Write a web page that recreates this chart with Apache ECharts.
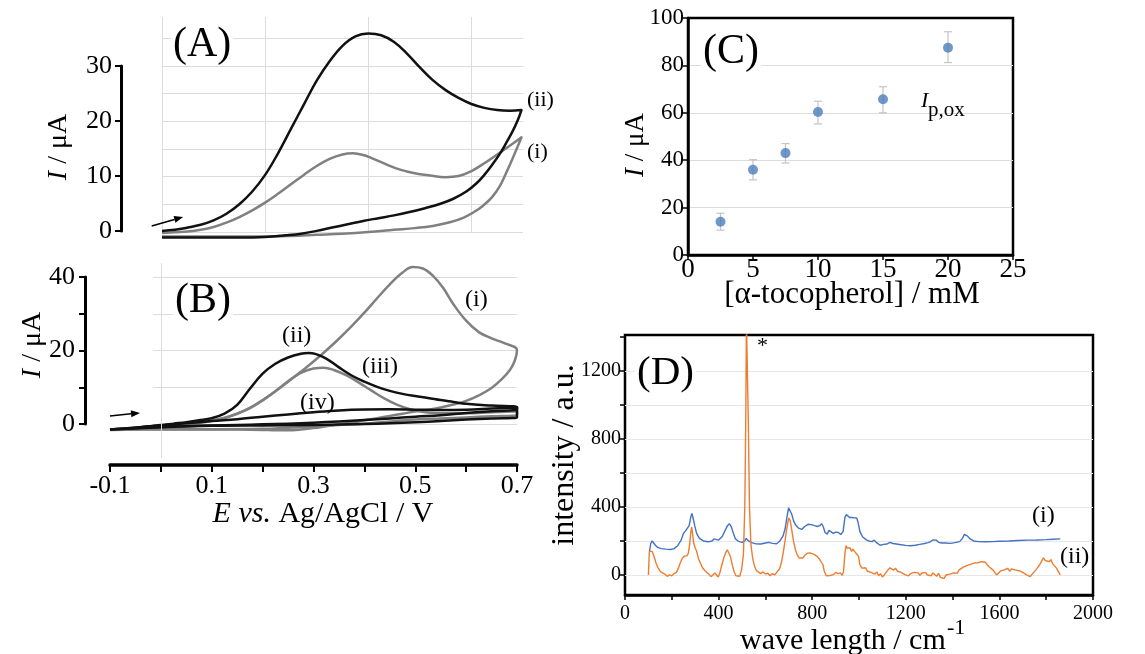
<!DOCTYPE html>
<html>
<head>
<meta charset="utf-8">
<script src="https://cdn.jsdelivr.net/npm/echarts@6/dist/echarts.min.js"></script>
<style>html,body{margin:0;padding:0;background:#fff}#c{width:1145px;height:654px}</style>
</head>
<body>
<div id="c"></div>
<script>
// ---------- DATA ----------
// Panel A: CV curves [E (V), I (uA)] (forward scan then return scan)
const cvA_i = [[0,-0.2],[0.025,-0.05],[0.05,0.1],[0.075,0.4],[0.1,0.9],[0.125,1.7],[0.15,2.7],[0.175,3.9],[0.2,5.3],[0.225,6.9],[0.25,8.6],[0.275,10.3],[0.3,11.9],[0.325,13.2],[0.35,14.0],[0.37,14.2],[0.39,13.9],[0.41,13.2],[0.435,12.2],[0.46,11.3],[0.49,10.6],[0.52,10.2],[0.55,9.9],[0.575,10.1],[0.6,11.0],[0.625,12.4],[0.65,14.0],[0.675,15.6],[0.697,17.1],[0.69,15.5],[0.68,13.3],[0.667,10.6],[0.655,8.3],[0.64,6.3],[0.622,4.7],[0.605,3.6],[0.585,2.6],[0.56,1.8],[0.525,1.1],[0.49,0.7],[0.45,0.4],[0.4,0.0],[0.35,-0.3],[0.3,-0.5],[0.25,-0.7],[0.2,-0.8],[0.1,-0.8],[0,-0.8]];
const cvA_ii = [[0,0.2],[0.025,0.4],[0.05,0.8],[0.075,1.3],[0.1,2.1],[0.125,3.3],[0.15,5.0],[0.175,7.3],[0.2,10.3],[0.225,14.2],[0.25,18.6],[0.275,23.0],[0.3,27.3],[0.325,30.8],[0.35,33.6],[0.375,35.3],[0.4,35.8],[0.425,35.5],[0.45,34.3],[0.475,32.2],[0.5,29.7],[0.525,27.4],[0.55,25.6],[0.575,24.2],[0.6,23.1],[0.625,22.4],[0.65,22.0],[0.675,21.9],[0.697,22.0],[0.69,20.2],[0.68,18.2],[0.667,16.0],[0.655,14.1],[0.64,12.1],[0.625,10.3],[0.61,8.8],[0.59,7.3],[0.565,6.0],[0.54,5.1],[0.51,4.3],[0.48,3.6],[0.45,3.0],[0.42,2.5],[0.39,2.0],[0.36,1.4],[0.33,0.8],[0.3,0.2],[0.27,-0.3],[0.24,-0.6],[0.2,-0.9],[0.15,-1.0],[0.075,-1.0],[0,-1.0]];
// Panel B: CV curves
const cvB_i = [[-0.1,-1.6],[-0.075,-1.4],[-0.05,-1.2],[-0.025,-0.9],[0,-0.5],[0.025,-0.2],[0.05,0],[0.075,0.3],[0.1,0.8],[0.125,1.6],[0.15,2.8],[0.175,4.4],[0.2,6.5],[0.225,8.9],[0.25,11.5],[0.275,14.2],[0.3,17.0],[0.325,20.0],[0.35,23.2],[0.375,26.6],[0.4,30.3],[0.425,34.2],[0.45,38.0],[0.475,41.2],[0.495,42.7],[0.515,42.3],[0.535,40.3],[0.555,37.0],[0.575,32.6],[0.6,28.1],[0.625,25.0],[0.65,23.3],[0.675,22.0],[0.7,20.1],[0.695,17.0],[0.686,14.7],[0.67,12.2],[0.65,9.8],[0.625,7.8],[0.6,6.3],[0.575,5.3],[0.55,4.5],[0.525,3.9],[0.5,3.4],[0.475,2.8],[0.45,2.2],[0.425,1.6],[0.4,1.0],[0.375,0.4],[0.35,-0.1],[0.325,-0.6],[0.3,-1.1],[0.275,-1.5],[0.25,-1.7],[0.225,-1.7],[0.2,-1.6],[0.1,-1.5],[0,-1.5],[-0.1,-1.6]];
const cvB_ii = [[-0.1,-1.5],[-0.05,-1.0],[0,-0.3],[0.025,0.1],[0.05,0.5],[0.075,1.0],[0.1,1.6],[0.125,2.8],[0.15,5.2],[0.175,9.6],[0.2,13.7],[0.225,16.4],[0.25,18.1],[0.275,19.1],[0.29,19.3],[0.305,19.0],[0.325,17.8],[0.35,15.4],[0.375,13.2],[0.4,11.5],[0.425,10.1],[0.45,9.0],[0.475,8.2],[0.5,7.6],[0.525,7.1],[0.55,6.5],[0.575,6.0],[0.6,5.5],[0.65,5.0],[0.7,4.6],[0.7,4.0],[0.65,3.5],[0.6,3.0],[0.55,2.4],[0.5,2.0],[0.45,1.5],[0.4,1.1],[0.35,0.7],[0.3,0.35],[0.25,0.1],[0.2,-0.1],[0.15,-0.25],[0.1,-0.4],[0.05,-0.6],[0,-0.8],[-0.05,-1.1],[-0.1,-1.5]];
const cvB_iii = [[-0.1,-1.5],[-0.05,-1.0],[0,-0.4],[0.05,0.2],[0.1,1.0],[0.125,1.7],[0.15,2.8],[0.175,4.3],[0.2,6.4],[0.225,8.9],[0.25,11.6],[0.275,13.9],[0.3,15.1],[0.32,15.3],[0.34,14.7],[0.365,13.2],[0.39,11.2],[0.415,9.0],[0.44,6.9],[0.465,5.2],[0.49,4.0],[0.52,3.2],[0.55,2.9],[0.6,2.9],[0.65,3.2],[0.7,3.5],[0.7,2.5],[0.65,2.1],[0.6,1.8],[0.55,1.5],[0.5,1.2],[0.45,0.7],[0.4,0.1],[0.35,-0.3],[0.3,-0.7],[0.25,-1.0],[0.2,-1.3],[0.1,-1.4],[0,-1.4],[-0.1,-1.5]];
const cvB_iv = [[-0.1,-1.5],[-0.05,-1.0],[0,-0.4],[0.05,0.2],[0.1,0.8],[0.15,1.3],[0.2,2.0],[0.25,2.6],[0.3,3.2],[0.35,3.7],[0.4,3.95],[0.45,4.0],[0.5,3.9],[0.55,3.8],[0.6,3.9],[0.65,4.2],[0.7,4.5],[0.7,1.8],[0.65,1.5],[0.6,1.2],[0.55,0.8],[0.5,0.5],[0.45,0.2],[0.4,0.0],[0.35,-0.15],[0.3,-0.25],[0.2,-0.4],[0.1,-0.5],[0,-0.9],[-0.1,-1.5]];
// Scan-direction arrows [from, to] in data units
const arrowA = [[-0.02, 1.1], [0.041, 2.7]];
const arrowB = [[-0.1, 2.2], [-0.041, 3.0]];
// Panel C
const tocoph = [2.5, 5, 7.5, 10, 15, 20];
const ipox = [14, 36, 43, 60.3, 65.7, 87.5];
const ipoxLow = [10.5, 31.7, 38.8, 55.3, 60, 81.2];
const ipoxHigh = [17.6, 40.2, 47, 64.9, 71, 94.2];
// Panel D: Raman spectra [wavenumber, intensity]
const ramanI = [[105,140],[110,185],[116,200],[122,195],[130,175],[140,162],[155,155],[175,152],[195,150],[210,155],[225,172],[240,205],[250,245],[258,258],[266,262],[274,290],[282,345],[286,362],[291,335],[298,290],[306,245],[318,215],[335,200],[355,195],[372,200],[380,212],[388,205],[400,205],[415,225],[428,262],[438,290],[446,302],[454,285],[462,250],[472,212],[485,198],[500,192],[512,200],[518,215],[522,215],[528,200],[540,190],[560,183],[580,182],[600,188],[615,192],[630,186],[648,184],[662,200],[675,228],[684,270],[692,340],[699,395],[705,400],[712,360],[720,320],[730,292],[742,275],[755,268],[768,285],[782,298],[796,296],[810,290],[822,285],[832,290],[840,302],[847,285],[855,250],[864,240],[872,262],[880,258],[890,245],[900,252],[912,250],[922,238],[932,255],[940,340],[946,355],[952,350],[960,338],[970,338],[980,336],[990,335],[996,310],[1004,255],[1015,225],[1030,208],[1045,198],[1056,196],[1065,205],[1075,190],[1090,175],[1105,180],[1120,182],[1132,192],[1138,197],[1145,185],[1160,182],[1180,178],[1200,174],[1220,172],[1240,175],[1260,180],[1280,185],[1295,190],[1305,195],[1315,206],[1322,214],[1330,205],[1340,192],[1355,188],[1370,188],[1390,186],[1410,190],[1430,196],[1442,215],[1450,238],[1456,244],[1463,230],[1475,212],[1490,200],[1510,196],[1540,195],[1570,196],[1600,198],[1640,200],[1680,203],[1720,205],[1760,206],[1800,208],[1830,210],[1860,212]];
const ramanII = [[100,0],[104,140],[110,150],[116,138],[124,110],[132,72],[140,45],[150,22],[160,12],[170,5],[180,-8],[190,0],[200,-5],[210,8],[220,15],[228,40],[236,70],[244,95],[252,110],[258,118],[264,112],[270,125],[276,175],[281,250],[285,282],[289,240],[294,185],[300,160],[306,140],[314,95],[322,70],[330,45],[340,28],[350,15],[360,2],[368,-10],[376,-2],[384,12],[390,6],[398,-12],[406,15],[414,60],[422,100],[430,130],[437,148],[444,140],[450,110],[458,62],[466,20],[474,-5],[482,-12],[490,-8],[498,30],[506,120],[512,400],[516,900],[519,1500],[523,1500],[527,900],[532,400],[538,180],[546,95],[554,50],[562,25],[570,15],[580,8],[590,18],[600,5],[610,10],[620,-5],[630,8],[640,0],[650,18],[660,35],[668,70],[676,130],[684,200],[690,260],[696,310],[700,335],[706,320],[712,270],[720,200],[728,150],[736,118],[744,100],[752,90],[760,100],[770,118],[780,128],[790,130],[798,140],[806,122],[814,118],[822,108],[830,95],[838,90],[846,60],[852,20],[860,-5],[868,5],[876,-3],[884,8],[892,2],[900,15],[910,8],[920,12],[928,-2],[934,20],[940,130],[945,172],[950,158],[956,150],[962,160],[968,138],[974,152],[980,140],[986,145],[992,120],[998,108],[1004,60],[1012,40],[1020,30],[1028,42],[1036,22],[1044,30],[1052,15],[1060,25],[1068,5],[1076,18],[1084,-5],[1092,8],[1100,-12],[1108,0],[1116,15],[1124,30],[1132,42],[1140,35],[1148,28],[1156,40],[1164,22],[1172,30],[1180,15],[1188,25],[1196,2],[1204,12],[1212,-5],[1220,8],[1228,0],[1236,15],[1244,5],[1252,12],[1260,-2],[1268,10],[1276,3],[1284,15],[1292,0],[1300,10],[1308,-5],[1316,12],[1324,4],[1332,-8],[1340,10],[1348,-15],[1356,-5],[1364,-20],[1372,0],[1380,-10],[1388,5],[1396,-5],[1404,12],[1412,18],[1420,10],[1428,30],[1436,22],[1444,45],[1452,38],[1460,55],[1468,48],[1476,62],[1484,55],[1492,70],[1500,60],[1508,72],[1516,65],[1524,78],[1532,68],[1540,75],[1548,60],[1556,48],[1564,55],[1572,30],[1580,15],[1588,0],[1596,10],[1604,22],[1612,15],[1620,30],[1628,25],[1636,38],[1644,22],[1652,35],[1660,45],[1668,30],[1676,40],[1684,25],[1692,35],[1700,15],[1708,20],[1716,0],[1724,8],[1732,-10],[1740,5],[1748,10],[1756,30],[1764,45],[1772,60],[1780,80],[1788,100],[1796,85],[1804,95],[1812,78],[1820,90],[1828,65],[1836,60],[1844,40],[1852,20],[1860,0]];

// ---------- STYLE ----------
const SERIF = 'Liberation Serif';
const GRID_C = '#dcdcdc';
const GRAY = '#808080';
const BLACK = '#111111';

function T(x, y, text, size, o) {
  o = o || {};
  return {
    type: 'text', x: x, y: y, rotation: o.rot || 0, z: 50,
    style: Object.assign({
      text: text, fontSize: size, fontFamily: SERIF, fill: '#000',
      textAlign: o.align || 'left', textVerticalAlign: o.valign || 'middle',
      align: o.align || 'left', verticalAlign: o.valign || 'middle'
    }, o.style || {})
  };
}
function R(size) {
  return { i: { fontStyle: 'italic', fontSize: size, fontFamily: SERIF, color: '#000' },
           n: { fontSize: size, fontFamily: SERIF, color: '#000' } };
}
const hid = { show: false };
function cvSeries(data, color, xi, extra) {
  return Object.assign({ type: 'line', data: data, xAxisIndex: xi, yAxisIndex: xi, smooth: 0.4,
    showSymbol: false, symbol: 'none', clip: false, lineStyle: { color: color, width: 2.5, join: 'round' }, itemStyle: { color: color }, silent: true }, extra || {});
}

const chart = echarts.init(document.getElementById('c'), null, { renderer: 'canvas' });
const option = {
  animation: false,
  backgroundColor: '#fff',
  textStyle: { fontFamily: SERIF, color: '#000' },
  grid: [
    { left: 162, top: 17, width: 361, height: 215, outerBoundsMode: 'none' },   // 0 A data
    { left: 121, top: 66, width: 10, height: 165, outerBoundsMode: 'none' },    // 1 A y axis
    { left: 110, top: 263, width: 407, height: 195, outerBoundsMode: 'none' },  // 2 B data
    { left: 153, top: 277, width: 364, height: 147, outerBoundsMode: 'none' },  // 3 B gridlines
    { left: 85, top: 277, width: 10, height: 147, outerBoundsMode: 'none' },    // 4 B y axis
    { left: 110, top: 440, width: 407, height: 25, outerBoundsMode: 'none' },   // 5 shared x axis
    { left: 688, top: 18, width: 325, height: 237, show: true, borderColor: '#000', borderWidth: 2.5, outerBoundsMode: 'none' }, // 6 C
    { left: 625, top: 335, width: 468, height: 260, show: true, borderColor: '#000', borderWidth: 2.5, outerBoundsMode: 'none' }, // 7 D data
    { left: 625, top: 337, width: 468, height: 238, outerBoundsMode: 'none' }   // 8 D y axis
  ],
  xAxis: [
    { gridIndex: 0, type: 'value', min: 0, max: 0.7, interval: 0.2, axisLine: hid, axisTick: hid, axisLabel: hid,
      splitLine: { show: true, showMaxLine: false, lineStyle: { color: GRID_C, width: 1 } } },
    { gridIndex: 1, type: 'value', min: 0, max: 1, show: false },
    { gridIndex: 2, type: 'value', min: -0.1, max: 0.7, show: false },
    { gridIndex: 3, type: 'value', min: 0, max: 1, show: false },
    { gridIndex: 4, type: 'value', min: 0, max: 1, show: false },
    { gridIndex: 5, type: 'value', min: -0.1, max: 0.7, interval: 0.1, position: 'bottom',
      axisLine: { show: true, onZero: false, lineStyle: { color: '#000', width: 3.5 } },
      axisTick: { show: true, length: 7, lineStyle: { color: '#000', width: 2 } },
      axisLabel: { fontSize: 26, fontFamily: SERIF, color: '#000', margin: 8,
        formatter: function (v) { const k = Math.round(v * 10); return (k % 2 !== 0) ? (k / 10).toFixed(1) : ''; } },
      splitLine: hid },
    { gridIndex: 6, type: 'value', min: 0, max: 25, interval: 5,
      axisLine: { show: true, onZero: false, lineStyle: { color: '#000', width: 2.5 } },
      axisTick: { show: true, length: 5, lineStyle: { color: '#000', width: 1.5 } },
      axisLabel: { fontSize: 27, fontFamily: SERIF, color: '#000', margin: 1 },
      splitLine: hid },
    { gridIndex: 7, type: 'value', min: 0, max: 2000, interval: 200,
      axisLine: { show: true, onZero: false, lineStyle: { color: '#000', width: 2.5 } },
      axisTick: { show: true, length: 5, lineStyle: { color: '#000', width: 1.5 } },
      axisLabel: { fontSize: 20, fontFamily: SERIF, color: '#000', margin: 9,
        formatter: function (v) { return (Math.round(v) % 400 === 0) ? String(Math.round(v)) : ''; } },
      splitLine: hid },
    { gridIndex: 8, type: 'value', min: 0, max: 2000, show: false }
  ],
  yAxis: [
    { gridIndex: 0, type: 'value', min: 0, max: 38.8, interval: 5, axisLine: hid, axisTick: hid, axisLabel: hid,
      splitLine: { show: true, showMaxLine: false, lineStyle: { color: GRID_C, width: 1 } } },
    { gridIndex: 1, type: 'value', min: 0, max: 30, interval: 10,
      axisLine: { show: true, onZero: false, lineStyle: { color: '#000', width: 3 } },
      axisTick: { show: true, length: 6, lineStyle: { color: '#000', width: 2 } },
      axisLabel: { fontSize: 26, fontFamily: SERIF, color: '#000', margin: 9 },
      splitLine: hid },
    { gridIndex: 2, type: 'value', min: -9.25, max: 43.8, show: false },
    { gridIndex: 3, type: 'value', min: 0, max: 40, interval: 10, axisLine: hid, axisTick: hid, axisLabel: hid,
      splitLine: { show: true, lineStyle: { color: GRID_C, width: 1 } } },
    { gridIndex: 4, type: 'value', min: 0, max: 40, interval: 10,
      axisLine: { show: true, onZero: false, lineStyle: { color: '#000', width: 3 } },
      axisTick: { show: true, length: 6, lineStyle: { color: '#000', width: 2 } },
      axisLabel: { fontSize: 26, fontFamily: SERIF, color: '#000', margin: 10,
        formatter: function (v) { return (Math.round(v) % 20 === 0) ? String(Math.round(v)) : ''; } },
      splitLine: hid },
    { gridIndex: 5, type: 'value', min: 0, max: 1, show: false },
    { gridIndex: 6, type: 'value', min: 0, max: 100, interval: 10,
      axisLine: { show: true, onZero: false, lineStyle: { color: '#000', width: 2.5 } },
      axisTick: { show: true, length: 5, lineStyle: { color: '#000', width: 1.5 }, customValues: [0, 20, 40, 60, 80, 100] },
      axisLabel: { fontSize: 23, fontFamily: SERIF, color: '#000', margin: 4,
        formatter: function (v) { return (Math.round(v) % 20 === 0) ? String(Math.round(v)) : ''; } },
      splitLine: { show: true, showMinLine: false, showMaxLine: false, lineStyle: { color: GRID_C, width: 1 } } },
    { gridIndex: 7, type: 'value', min: -118, max: 1412, show: false },
    { gridIndex: 8, type: 'value', min: 0, max: 1400, interval: 200,
      axisLine: hid,
      axisTick: { show: true, length: 5, lineStyle: { color: '#000', width: 1.5 } },
      axisLabel: { fontSize: 20, fontFamily: SERIF, color: '#000', margin: 4,
        formatter: function (v) { return (Math.round(v) % 400 === 0 && v < 1400) ? String(Math.round(v)) : ''; } },
      splitLine: { show: true, showMinLine: true, showMaxLine: false, lineStyle: { color: '#e6e6e6', width: 1 } } }
  ],
  series: [
    // Panel A
    cvSeries(cvA_i, GRAY, 0),
    cvSeries(cvA_ii, BLACK, 0),
    // Panel B
    cvSeries(cvB_i, GRAY, 2, {
      markLine: { silent: true, symbol: 'none', label: { show: false },
        lineStyle: { color: GRID_C, width: 1, type: 'solid' }, data: [{ xAxis: 0 }] }
    }),
    cvSeries(cvB_iii, GRAY, 2),
    cvSeries(cvB_iv, BLACK, 2),
    cvSeries(cvB_ii, BLACK, 2),
    // Panel C: error bars + points
    {
      type: 'custom', xAxisIndex: 6, yAxisIndex: 6, silent: true, z: 3,
      data: tocoph.map(function (x, i) { return [x, ipoxLow[i], ipoxHigh[i]]; }),
      encode: { x: 0, y: [1, 2] },
      renderItem: function (params, api) {
        const x = api.value(0);
        const p1 = api.coord([x, api.value(1)]);
        const p2 = api.coord([x, api.value(2)]);
        const w = 4, st = { stroke: '#c4c4c4', lineWidth: 1.2 };
        return { type: 'group', children: [
          { type: 'line', shape: { x1: p1[0], y1: p1[1], x2: p2[0], y2: p2[1] }, style: st },
          { type: 'line', shape: { x1: p1[0] - w, y1: p1[1], x2: p1[0] + w, y2: p1[1] }, style: st },
          { type: 'line', shape: { x1: p2[0] - w, y1: p2[1], x2: p2[0] + w, y2: p2[1] }, style: st }
        ] };
      }
    },
    {
      type: 'scatter', xAxisIndex: 6, yAxisIndex: 6, symbolSize: 10, z: 4, silent: true,
      itemStyle: { color: '#4a7ebb' },
      data: tocoph.map(function (x, i) { return [x, ipox[i]]; })
    },
    // Panel D
    { type: 'line', xAxisIndex: 7, yAxisIndex: 7, data: ramanI, showSymbol: false, symbol: 'none', clip: true, silent: true,
      lineStyle: { color: '#4472c4', width: 1.4 }, itemStyle: { color: '#4472c4' } },
    { type: 'line', xAxisIndex: 7, yAxisIndex: 7, data: ramanII, showSymbol: false, symbol: 'none', clip: true, silent: true,
      lineStyle: { color: '#ed7d31', width: 1.4 }, itemStyle: { color: '#ed7d31' } }
  ],
  graphic: [
    // panel labels
    T(171, 45, '(A)', 42, { style: { backgroundColor: '#fff', padding: [0, 2] } }),
    T(173, 301, '(B)', 42, { style: { backgroundColor: '#fff', padding: [0, 2] } }),
    T(701, 52, '(C)', 42, { style: { backgroundColor: '#fff', padding: [0, 2] } }),
    T(635, 373, '(D)', 41, { style: { backgroundColor: '#fff', padding: [0, 2] } }),
    // curve labels A
    T(527, 100, '(ii)', 22),
    T(527, 152, '(i)', 22),
    // curve labels B
    T(465, 300, '(i)', 24),
    T(282, 336, '(ii)', 24),
    T(362, 367, '(iii)', 24),
    T(300, 403, '(iv)', 24),
    // curve labels D
    T(1032, 516, '(i)', 24),
    T(1060, 557, '(ii)', 24),
    T(757, 346, '*', 22),
    // C annotation
    T(921, 101, 'I', 22, { style: { fontStyle: 'italic' } }),
    T(928, 110, 'p,ox', 21),
    // axis titles
    T(59, 147, '{i|I}{n| / μA}', 28, { rot: Math.PI / 2, align: 'center', style: { rich: R(28) } }),
    T(33, 345, '{i|I}{n| / μA}', 28, { rot: Math.PI / 2, align: 'center', style: { rich: R(28) } }),
    T(323, 514, '{i|E vs.}{n| Ag/AgCl / V}', 30, { align: 'center', style: { rich: R(30) } }),
    T(636, 145, '{i|I}{n| / μA}', 27, { rot: Math.PI / 2, align: 'center', style: { rich: R(27) } }),
    T(852, 295, '[α-tocopherol] / mM', 31, { align: 'center' }),
    T(565, 455, 'intensity / a.u.', 32, { rot: Math.PI / 2, align: 'center' }),
    T(740, 641, 'wave length / cm', 30),
    T(947, 628, '-1', 22)
  ]
};
chart.setOption(option);

// Scan-direction arrows placed through the chart's own coordinate conversion
function arrowEls(gridIndex, ar) {
  const p0 = chart.convertToPixel({ gridIndex: gridIndex }, ar[0]);
  const p1 = chart.convertToPixel({ gridIndex: gridIndex }, ar[1]);
  const ang = Math.atan2(p1[1] - p0[1], p1[0] - p0[0]);
  const L = 9, W = 3.5;
  const bx = p1[0] - L * Math.cos(ang), by = p1[1] - L * Math.sin(ang);
  const nx = -Math.sin(ang) * W, ny = Math.cos(ang) * W;
  return [
    { type: 'line', z: 40, shape: { x1: p0[0], y1: p0[1], x2: bx, y2: by }, style: { stroke: '#000', lineWidth: 1.5 } },
    { type: 'polygon', z: 40, shape: { points: [[p1[0], p1[1]], [bx + nx, by + ny], [bx - nx, by - ny]] }, style: { fill: '#000' } }
  ];
}
chart.setOption({ graphic: option.graphic.concat(arrowEls(0, arrowA), arrowEls(2, arrowB)) });
</script>
</body>
</html>
